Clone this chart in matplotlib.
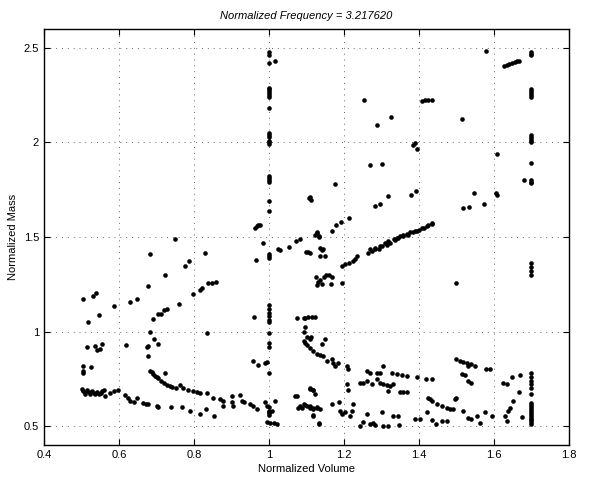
import matplotlib
matplotlib.use("Agg")
import matplotlib.pyplot as plt

plt.rcParams['font.family'] = ['Liberation Sans', 'DejaVu Sans']

# points, grouped by the branch they sit on (volume, mass)
column_one = [(1.0, 2.48), (1.0, 2.46), (1.0, 2.42), (1.017, 2.43), (1.0, 2.29), (1.0, 2.28),
              (1.0, 2.27), (1.0, 2.26), (1.0, 2.25), (1.0, 2.24), (1.0, 2.18), (1.0, 2.05),
              (1.0, 2.04), (1.0, 2.03), (1.0, 2.01), (1.0, 2.0), (1.0, 1.99), (1.0, 1.82),
              (1.0, 1.81), (1.0, 1.80), (1.0, 1.79), (1.0, 1.69), (1.0, 1.64), (1.0, 1.41),
              (1.0, 1.40), (1.0, 1.39), (1.0, 1.14), (1.0, 1.12), (1.0, 1.10), (1.0, 1.08),
              (1.0, 1.06), (1.0, 1.05), (1.0, 0.99), (1.0, 0.94), (1.0, 0.92), (1.0, 0.78),
              (1.0, 0.60), (1.0, 0.58), (1.0, 0.57), (1.0, 0.56)]

column_two = [(1.698, 2.48), (1.698, 2.47), (1.698, 2.46), (1.698, 2.28), (1.698, 2.27),
              (1.698, 2.26), (1.698, 2.25), (1.698, 2.24), (1.698, 2.04), (1.698, 2.03),
              (1.698, 2.02), (1.698, 2.01), (1.698, 2.0), (1.698, 1.89), (1.698, 1.80),
              (1.698, 1.79), (1.698, 1.785), (1.68, 1.80), (1.698, 1.36), (1.698, 1.34),
              (1.698, 1.32), (1.698, 1.30), (1.698, 0.78), (1.698, 0.76), (1.698, 0.74),
              (1.698, 0.72), (1.698, 0.70), (1.698, 0.67), (1.698, 0.62), (1.698, 0.61),
              (1.698, 0.60), (1.698, 0.59), (1.698, 0.58), (1.698, 0.57), (1.698, 0.56),
              (1.698, 0.55), (1.698, 0.54), (1.698, 0.53), (1.698, 0.52), (1.698, 0.51)]

short_segments = [(1.627, 2.405), (1.634, 2.41), (1.641, 2.415), (1.648, 2.42), (1.655, 2.425),
                  (1.662, 2.43), (1.667, 2.433), (1.407, 2.22), (1.416, 2.222), (1.425, 2.224),
                  (1.434, 2.226)]

upper_scatter = [(1.254, 2.222), (1.287, 2.094), (1.324, 2.134), (1.269, 1.883), (1.300, 1.888),
                 (1.283, 1.666), (1.296, 1.672), (1.318, 1.715), (1.383, 1.988), (1.389, 1.997),
                 (1.394, 1.965), (1.378, 1.721), (1.392, 1.742), (1.516, 2.124), (1.518, 1.654),
                 (1.534, 1.657), (1.547, 1.733), (1.573, 1.677), (1.58, 2.481), (1.609, 1.939),
                 (1.605, 1.73), (1.607, 1.72), (1.176, 1.782), (1.108, 1.71), (1.111, 1.698),
                 (1.5, 1.258)]

rising_curve = [(1.125, 1.29), (1.131, 1.26), (1.136, 1.27), (1.140, 1.25), (1.146, 1.29),
                (1.153, 1.30), (1.160, 1.30), (1.164, 1.25), (1.167, 1.29), (1.194, 1.258),
                (1.194, 1.346), (1.203, 1.355), (1.212, 1.363), (1.225, 1.372), (1.234, 1.399),
                (1.229, 1.381), (1.265, 1.416), (1.274, 1.425), (1.283, 1.434), (1.292, 1.437),
                (1.300, 1.451), (1.314, 1.460), (1.323, 1.469), (1.336, 1.483), (1.345, 1.495),
                (1.358, 1.504), (1.371, 1.513), (1.385, 1.525), (1.394, 1.534), (1.407, 1.548),
                (1.420, 1.560), (1.434, 1.575), (1.269, 1.434), (1.283, 1.443), (1.296, 1.451),
                (1.309, 1.469), (1.318, 1.478), (1.332, 1.487), (1.341, 1.496), (1.349, 1.504),
                (1.358, 1.513), (1.367, 1.518), (1.376, 1.525), (1.389, 1.534), (1.401, 1.539),
                (1.412, 1.548), (1.425, 1.561), (1.434, 1.571)]

near_one_upper = [(1.099, 1.422), (1.108, 1.416), (1.136, 1.44), (1.142, 1.43), (1.149, 1.40),
                  (1.136, 1.40), (1.123, 1.51), (1.129, 1.52), (1.134, 1.50), (1.127, 1.527),
                  (1.132, 1.504), (1.143, 1.437), (1.167, 1.531), (1.179, 1.566), (1.191, 1.578),
                  (1.214, 1.601), (1.083, 1.487), (1.072, 1.478), (1.054, 1.448), (1.029, 1.431),
                  (1.025, 1.434), (1.103, 1.42), (1.127, 1.246), (1.107, 1.707), (0.963, 1.548),
                  (0.967, 1.556), (0.971, 1.562), (0.976, 1.566), (0.983, 1.468), (0.965, 1.38),
                  (0.96, 1.077), (0.749, 1.487)]

left_branches = [(0.503, 1.17), (0.531, 1.19), (0.538, 1.205), (0.683, 1.408), (0.829, 1.416),
                 (0.776, 1.346), (0.787, 1.372), (0.723, 1.298), (0.678, 1.241), (0.518, 1.052),
                 (0.547, 1.087), (0.587, 1.135), (0.628, 1.158), (0.647, 1.174), (0.761, 1.147),
                 (0.796, 1.198), (0.816, 1.218), (0.820, 1.228), (0.838, 1.255), (0.847, 1.258),
                 (0.859, 1.263)]

c_curve = [(0.727, 1.121), (0.720, 1.112), (0.705, 1.091), (0.711, 1.095), (0.691, 1.065),
           (0.683, 0.998), (0.694, 0.963), (0.705, 0.933), (0.674, 0.919), (0.678, 0.924),
           (0.678, 0.871), (0.683, 0.792), (0.691, 0.774), (0.696, 0.766), (0.705, 0.752),
           (0.711, 0.739), (0.720, 0.730), (0.727, 0.718), (0.723, 0.783), (0.752, 0.704),
           (0.763, 0.716), (0.771, 0.699), (0.785, 0.692), (0.796, 0.685), (0.807, 0.681),
           (0.816, 0.674), (0.834, 0.674), (0.851, 0.651), (0.869, 0.642), (0.878, 0.634),
           (0.90, 0.660), (0.922, 0.665), (0.735, 0.71), (0.742, 0.705), (0.70, 0.76),
           (0.688, 0.785)]

left_scatter = [(0.834, 0.994), (0.619, 0.928), (0.514, 0.919), (0.536, 0.924), (0.554, 0.933),
                (0.540, 0.901), (0.549, 0.906), (0.503, 0.818), (0.503, 0.792), (0.503, 0.780),
                (0.525, 0.815), (0.958, 0.845), (0.971, 0.822), (0.989, 0.832), (0.994, 0.839)]

left_band = [(0.500, 0.695), (0.505, 0.685), (0.510, 0.680), (0.515, 0.690), (0.520, 0.678),
             (0.527, 0.683), (0.533, 0.675), (0.540, 0.680), (0.547, 0.672), (0.554, 0.685),
             (0.560, 0.690), (0.563, 0.660), (0.576, 0.675), (0.587, 0.685), (0.598, 0.693),
             (0.616, 0.663), (0.625, 0.651), (0.630, 0.634), (0.641, 0.628), (0.649, 0.648),
             (0.665, 0.624), (0.672, 0.616), (0.678, 0.616), (0.702, 0.607), (0.705, 0.600),
             (0.739, 0.600), (0.767, 0.600), (0.789, 0.578), (0.816, 0.565), (0.832, 0.588),
             (0.853, 0.555), (0.878, 0.607), (0.90, 0.628), (0.905, 0.607), (0.927, 0.634),
             (0.933, 0.625), (0.949, 0.616), (0.956, 0.607), (0.967, 0.590), (0.989, 0.628),
             (0.994, 0.607), (1.001, 0.575), (1.008, 0.58), (1.016, 0.634), (0.995, 0.523),
             (1.002, 0.516), (1.012, 0.516), (1.022, 0.510), (0.508, 0.672), (0.523, 0.668),
             (0.537, 0.668), (0.551, 0.676)]

right_falling = [(1.069, 0.660), (1.074, 0.657), (1.078, 0.598), (1.087, 0.593), (1.096, 0.610),
                 (1.109, 0.607), (1.118, 0.592), (1.127, 0.600), (1.109, 0.704), (1.118, 0.692),
                 (1.123, 0.669), (1.117, 0.558), (1.134, 0.510), (1.096, 1.073), (1.105, 1.076),
                 (1.114, 1.079), (1.122, 1.079), (1.075, 1.07), (1.092, 1.07), (1.096, 1.026),
                 (1.092, 1.0), (1.101, 0.97), (1.094, 0.95), (1.096, 0.94), (1.101, 0.93),
                 (1.109, 0.915), (1.118, 0.898), (1.127, 0.88), (1.136, 0.874), (1.145, 0.87),
                 (1.154, 0.845), (1.167, 0.853), (1.171, 0.835), (1.176, 0.818), (1.185, 0.835),
                 (1.207, 0.818), (1.211, 0.80), (1.140, 0.933), (1.149, 0.959), (1.108, 0.96),
                 (1.113, 0.97)]

right_middle = [(1.26, 0.79), (1.269, 0.78), (1.287, 0.783), (1.296, 0.78), (1.305, 0.818),
                (1.327, 0.78), (1.34, 0.775), (1.354, 0.769), (1.367, 0.766), (1.394, 0.757),
                (1.243, 0.73), (1.251, 0.73), (1.26, 0.739), (1.274, 0.722), (1.287, 0.748),
                (1.296, 0.73), (1.305, 0.722), (1.314, 0.716), (1.323, 0.713), (1.331, 0.722),
                (1.318, 0.686), (1.349, 0.681), (1.358, 0.681), (1.367, 0.681), (1.207, 0.722),
                (1.211, 0.692), (1.419, 0.748), (1.434, 0.748), (1.5, 0.853), (1.509, 0.844),
                (1.518, 0.839), (1.527, 0.835), (1.531, 0.818), (1.54, 0.826), (1.549, 0.818),
                (1.514, 0.774), (1.523, 0.769), (1.531, 0.739), (1.54, 0.730), (1.58, 0.800),
                (1.589, 0.800), (1.625, 0.730), (1.634, 0.722), (1.647, 0.757), (1.669, 0.769),
                (1.667, 0.678)]

right_bottom = [(1.083, 0.607), (1.092, 0.616), (1.100, 0.607), (1.109, 0.598), (1.118, 0.598),
                (1.127, 0.598), (1.136, 0.589), (1.108, 0.698), (1.117, 0.692), (1.118, 0.554),
                (1.134, 0.514), (1.167, 0.616), (1.187, 0.625), (1.189, 0.581), (1.194, 0.563),
                (1.203, 0.572), (1.216, 0.555), (1.220, 0.581), (1.225, 0.616), (1.243, 0.501),
                (1.251, 0.519), (1.260, 0.563), (1.269, 0.51), (1.278, 0.515), (1.283, 0.505),
                (1.300, 0.575), (1.305, 0.501), (1.318, 0.501), (1.331, 0.555), (1.345, 0.555),
                (1.347, 0.505), (1.389, 0.537), (1.402, 0.540), (1.420, 0.576), (1.434, 0.533),
                (1.445, 0.51), (1.460, 0.528), (1.474, 0.528), (1.425, 0.651), (1.429, 0.642),
                (1.434, 0.634), (1.447, 0.616), (1.460, 0.607), (1.474, 0.598), (1.483, 0.590),
                (1.491, 0.590), (1.496, 0.642), (1.500, 0.651), (1.518, 0.581), (1.531, 0.541),
                (1.540, 0.537), (1.554, 0.555), (1.563, 0.515), (1.576, 0.572), (1.594, 0.555),
                (1.652, 0.634), (1.643, 0.598), (1.638, 0.581), (1.629, 0.555), (1.634, 0.528),
                (1.674, 0.546)]

x_ticks = [0.4, 0.6, 0.8, 1.0, 1.2, 1.4, 1.6, 1.8]
x_labels = ['0.4', '0.6', '0.8', '1', '1.2', '1.4', '1.6', '1.8']
y_ticks = [0.5, 1.0, 1.5, 2.0, 2.5]
y_labels = ['0.5', '1', '1.5', '2', '2.5']

groups = [column_one, column_two, short_segments, upper_scatter, rising_curve, near_one_upper,
          left_branches, c_curve, left_scatter, left_band, right_falling, right_middle, right_bottom]

fig = plt.figure(figsize=(5.90, 4.79), dpi=100)
ax = fig.add_axes([0.0746, 0.071, 0.8898, 0.8685])

for g in groups:
    vol = [p[0] for p in g]
    mass = [p[1] for p in g]
    ax.plot(vol, mass, 'o', color='black', markersize=3.3, markeredgewidth=0)

ax.set_xlim(0.4, 1.8)
ax.set_ylim(0.4, 2.6)
ax.set_xticks(x_ticks)
ax.set_xticklabels(x_labels)
ax.set_yticks(y_ticks)
ax.set_yticklabels(y_labels)
ax.grid(True, color='0.4', linestyle=(0, (1, 5)), linewidth=0.7)
ax.tick_params(direction='in', top=True, right=True, length=4, width=0.8, labelsize=8)
for s in ax.spines.values():
    s.set_linewidth(1.0)

ax.set_xlabel('Normalized Volume', fontsize=8, labelpad=3)
ax.set_ylabel('Normalized Mass', fontsize=8, labelpad=4)
ax.set_title('Normalized Frequency = 3.217620', fontsize=8, style='italic', pad=7)

plt.savefig('out.png', dpi=100)
